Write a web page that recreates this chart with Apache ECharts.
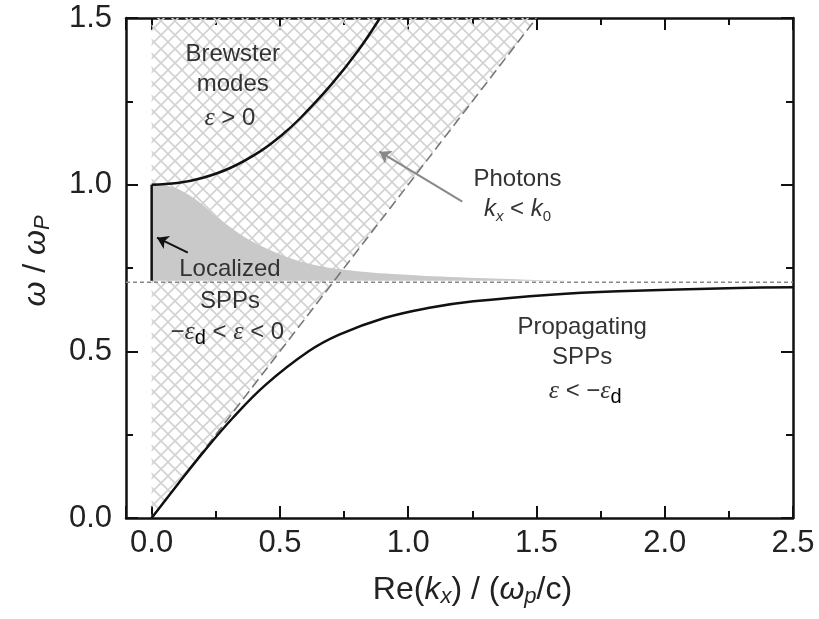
<!DOCTYPE html>
<html><head><meta charset="utf-8">
<script src="https://cdn.jsdelivr.net/npm/echarts@6/dist/echarts.min.js"></script>
<style>html,body{margin:0;padding:0;background:#fff}#c{width:819px;height:619px}</style>
</head><body><div id="c"></div><script>
// ---- data ----
const xRange = [-0.1, 2.5];
const yRange = [0, 1.5];
const lightLine = [[0, 0], [1.5, 1.5]];
const sppCurve = [[0,0],[0.1005,0.1],[0.204,0.2],[0.316,0.3],[0.445,0.4],[0.612,0.5],[0.731,0.55],[0.907,0.6],[1.077,0.63],[1.255,0.65],[1.556,0.67],[1.818,0.68],[2.284,0.69],[2.5,0.692]];
const brewsterCurve = [[0,1.0],[0.1,1.005],[0.197,1.02],[0.306,1.05],[0.423,1.1],[0.509,1.15],[0.58,1.2],[0.70,1.3],[0.803,1.4],[0.89,1.5]];
const localizedLine = [[0, 1.0], [0, 0.712]];
const grayTop = [[0,1.0],[0.04,0.998],[0.07,0.995],[0.12,0.98],[0.19,0.945],[0.25,0.905],[0.32,0.865],[0.38,0.835],[0.45,0.808],[0.55,0.777],[0.65,0.757],[0.75,0.745],[0.94,0.732],[1.2,0.722],[1.46,0.715],[1.65,0.712]];
const grayBase = 0.712;
const asymptote = [[-0.1, 0.707], [2.5, 0.707]];
const arrowBlack = [[0.141, 0.796], [0.021, 0.841]];
const arrowGray = [[1.211, 0.949], [0.888, 1.099]];
const annotations = [
  {pos:[0.316,1.39], text:'{n|Brewster}'},
  {pos:[0.316,1.30], text:'{n|modes}'},
  {pos:[0.305,1.20], text:'{e|ε}{n| > 0}'},
  {pos:[1.426,1.015], text:'{n|Photons}'},
  {pos:[1.426,0.925], text:'{i|k}{si|x}{n| < }{i|k}{s|0}'},
  {pos:[0.305,0.745], text:'{n|Localized}'},
  {pos:[0.305,0.649], text:'{n|SPPs}'},
  {pos:[0.295,0.556], text:'{n|−}{e|ε}{d|d}{n| < }{e|ε}{n| < 0}'},
  {pos:[1.678,0.571], text:'{n|Propagating}'},
  {pos:[1.678,0.481], text:'{n|SPPs}'},
  {pos:[1.69,0.379], text:'{e|ε}{n| < −}{e|ε}{d|d}'}
];

// ---- hatch pattern ----
const pat = document.createElement('canvas');
pat.width = 14; pat.height = 14;
const g = pat.getContext('2d');
g.strokeStyle = '#d2d2d2'; g.lineWidth = 1.6;
g.beginPath();
g.moveTo(-1,-1); g.lineTo(15,15);
g.moveTo(15,-1); g.lineTo(-1,15);
g.stroke();

const FONT = 'Liberation Sans';
const tickLabelStyle = {fontFamily: FONT, fontSize: 31, color: '#222'};
const axisLineStyle = {color:'#111', width:2.5};
const tickStyle = {color:'#111', width:2};
const titleRich = {
  n:{fontFamily:FONT, fontSize:32, color:'#222', lineHeight:36},
  i:{fontFamily:FONT, fontStyle:'italic', fontSize:32, color:'#222', lineHeight:36},
  w:{fontFamily:FONT, fontStyle:'italic', fontSize:32, color:'#222', lineHeight:36},
  si:{fontFamily:FONT, fontStyle:'italic', fontSize:22, color:'#222', lineHeight:22, padding:[14,0,0,0]}
};

function xAxisCfg(pos, labels) {
  return {
    type:'value', position: pos, min: xRange[0], max: xRange[1], splitNumber: 5,
    axisLine:{show:true, onZero:false, lineStyle:axisLineStyle},
    axisTick:{show:true, inside:true, length:12, lineStyle:tickStyle},
    minorTick:{show:true, splitNumber:2, length:7, lineStyle:tickStyle},
    splitLine:{show:false},
    axisLabel: labels ? Object.assign({show:true, margin:10, formatter: v => v < 0 ? '' : v.toFixed(1)}, tickLabelStyle) : {show:false},
    name: labels ? '{n|Re(}{i|k}{si|x}{n|) / (}{w|ω}{si|p}{n|/c)}' : '',
    nameLocation:'middle', nameGap: 54,
    nameTextStyle: {rich: titleRich, padding:[0,0,0,26]}
  };
}
function yAxisCfg(pos, labels) {
  return {
    type:'value', position: pos, min: yRange[0], max: yRange[1], interval: 0.5,
    axisLine:{show:true, onZero:false, lineStyle:axisLineStyle},
    axisTick:{show:true, inside:true, length:12, lineStyle:tickStyle},
    minorTick:{show:true, splitNumber:2, length:7, lineStyle:tickStyle},
    splitLine:{show:false},
    axisLabel: labels ? Object.assign({show:true, margin:14, formatter: v => v.toFixed(1)}, tickLabelStyle) : {show:false},
    name: labels ? '{w|ω}{n| / }{w|ω}{si|P}' : '',
    nameLocation:'middle', nameGap: 72, nameRotate: 90,
    nameTextStyle: {rich: titleRich, padding:[0,0,0,14]}
  };
}

const chart = echarts.init(document.getElementById('c'), null, {renderer:'canvas'});
chart.setOption({
  animation:false,
  backgroundColor:'#fff',
  grid:{left:126, right:26, top:18, bottom:101, containLabel:false},
  xAxis:[xAxisCfg('bottom', true), xAxisCfg('top', false)],
  yAxis:[yAxisCfg('left', true), yAxisCfg('right', false)],
  series:[
    {type:'line', data:lightLine, symbol:'none', lineStyle:{width:0},
     areaStyle:{origin:'end', color:{image:pat, repeat:'repeat'}, opacity:1}, z:1},
    {type:'line', data:grayTop, symbol:'none', smooth:0.4, lineStyle:{width:0},
     areaStyle:{origin:grayBase, color:'#c9c9c9', opacity:1}, z:2},
    {type:'line', data:asymptote, symbol:'none', lineStyle:{color:'#888', width:1.5, type:[4,3]}, z:3},
    {type:'line', data:lightLine, symbol:'none', lineStyle:{color:'#777', width:1.6, type:[10,5]}, z:3},
    {type:'line', data:localizedLine, symbol:'none', lineStyle:{color:'#111', width:2.5}, z:4},
    {type:'line', data:brewsterCurve, symbol:'none', smooth:0.4, lineStyle:{color:'#111', width:2.5}, z:4},
    {type:'line', data:sppCurve, symbol:'none', smooth:0.4, lineStyle:{color:'#111', width:2.5}, z:4},
    {type:'lines', coordinateSystem:'cartesian2d', symbol:['none','arrow'], symbolSize:11,
     lineStyle:{color:'#111', width:2, opacity:1}, data:[{coords:arrowBlack}], z:5},
    {type:'lines', coordinateSystem:'cartesian2d', symbol:['none','arrow'], symbolSize:11,
     lineStyle:{color:'#888', width:2, opacity:1}, data:[{coords:arrowGray}], z:5}
  ]
});

const annRich = {
  n:{fontFamily:FONT, fontSize:24, fill:'#333', lineHeight:28},
  e:{fontFamily:'Liberation Serif', fontStyle:'italic', fontSize:26, fill:'#333', lineHeight:28},
  i:{fontFamily:FONT, fontStyle:'italic', fontSize:24, fill:'#333', lineHeight:28},
  si:{fontFamily:FONT, fontStyle:'italic', fontSize:15, fill:'#333', lineHeight:15, padding:[14,0,0,0]},
  s:{fontFamily:FONT, fontSize:15, fill:'#333', lineHeight:15, padding:[14,0,0,0]},
  d:{fontFamily:FONT, fontSize:20, fill:'#000', lineHeight:20, padding:[12,0,0,0]}
};
const gEls = annotations.map(a => {
  const p = chart.convertToPixel({gridIndex:0}, a.pos);
  return {type:'text', x:p[0], y:p[1], z:10,
    style:{text:a.text, rich:annRich, align:'center', verticalAlign:'middle'}};
});
chart.setOption({graphic: gEls});
</script></body></html>
